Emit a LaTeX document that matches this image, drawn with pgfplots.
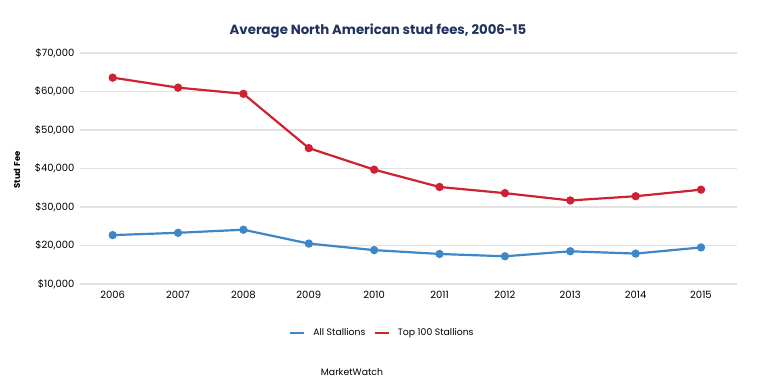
\documentclass[border=0pt]{standalone}
\usepackage{pgfplots}
\pgfplotsset{compat=1.18}
\usepackage{fontspec}
\setmainfont{Poppins}
\definecolor{redl}{RGB}{204,34,51}
\definecolor{bluel}{RGB}{61,135,200}
\definecolor{navy}{RGB}{31,50,95}
\definecolor{gridc}{RGB}{226,226,226}
\begin{document}
\begin{tikzpicture}
\path[use as bounding box] (0pt,0pt) rectangle (758pt,386pt);
\begin{axis}[
  at={(80pt,102pt)}, anchor=south west,
  width=657pt, height=231pt, scale only axis,
  xmin=2005.5, xmax=2015.55,
  ymin=10000, ymax=70000,
  xtick={2006,...,2015},
  ytick={10000,20000,...,70000},
  axis line style={draw=none},
  major tick length=0pt,
  ymajorgrids, grid style={gridc, line width=1.2pt},
  tick label style={font=\fontsize{10}{12}\selectfont, text=black},
  /pgf/number format/assume math mode=true,
  xticklabel style={/pgf/number format/1000 sep=, yshift=-4pt},
  yticklabel={\$\pgfmathprintnumber[1000 sep={,}]{\tick}},
  yticklabel style={xshift=-2pt},
  scaled y ticks=false,
  legend style={at={(0.46,-0.212)}, anchor=center, draw=none, font=\fontsize{9.3}{11}\selectfont, column sep=6pt},
  legend columns=2,
  legend image code/.code={\draw[#1, line width=2.5pt] (0pt,0pt) -- (14pt,0pt);},
]
\addplot[bluel, line width=2.2pt, mark=*, mark size=3pt] coordinates {
(2006,22700) (2007,23300) (2008,24100) (2009,20500) (2010,18800)
(2011,17800) (2012,17200) (2013,18500) (2014,17900) (2015,19500)};
\addlegendentry{All Stallions}
\addplot[redl, line width=2.2pt, mark=*, mark size=3pt] coordinates {
(2006,63600) (2007,61000) (2008,59400) (2009,45300) (2010,39700)
(2011,35200) (2012,33600) (2013,31700) (2014,32800) (2015,34500)};
\addlegendentry{Top 100 Stallions}
\end{axis}
\node[font=\fontsize{13.3}{16}\selectfont\bfseries, text=navy] at (378pt,355pt) {Average North American stud fees, 2006-15};
\node[font=\fontsize{8.5}{10}\selectfont\bfseries, rotate=90] at (17pt,216pt) {Stud Fee};
\node[font=\fontsize{9.3}{11}\selectfont] at (352pt,14pt) {MarketWatch};
\end{tikzpicture}
\end{document}
